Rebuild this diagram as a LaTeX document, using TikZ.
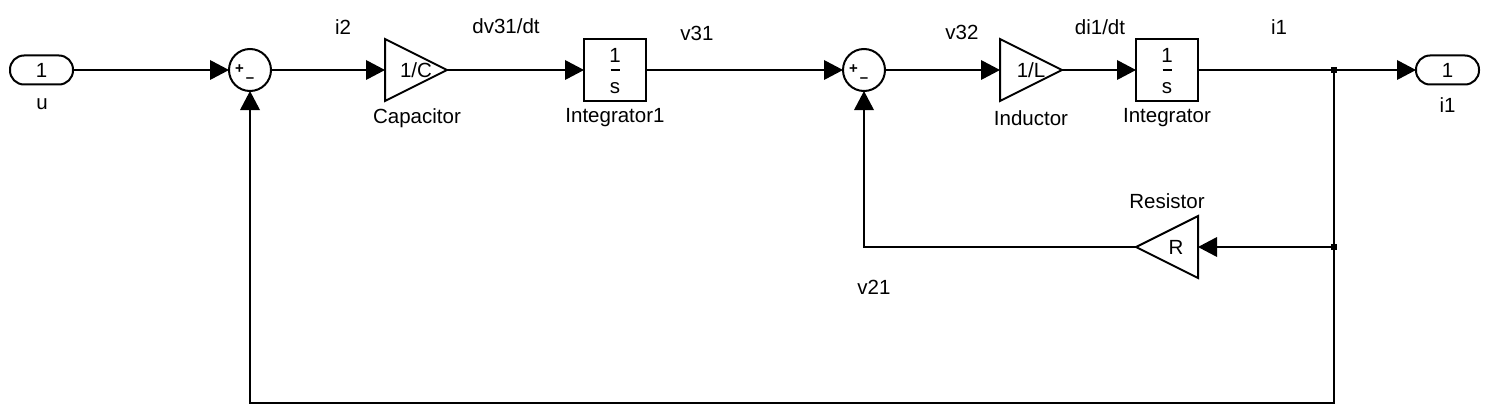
\documentclass[tikz,border=0pt]{standalone}
\usepackage{fontspec}
\setmainfont{Liberation Sans}
\usetikzlibrary{arrows.meta}
\tikzset{
  x=1pt,y=-1pt,
  every node/.style={font=\fontsize{20.5}{24}\selectfont,inner sep=0pt,outer sep=0pt},
  wire/.style={draw=black,line width=2pt},
  arrowwire/.style={wire,-{Triangle[length=19pt,width=20pt,line width=0pt]}},
  portbox/.style={draw=black,line width=2pt,rounded corners=14pt,minimum width=63pt,minimum height=29pt},
  sumbox/.style={draw=black,line width=2pt,circle,minimum size=42pt,fill=white},
  intbox/.style={draw=black,line width=2pt,minimum width=62pt,minimum height=62pt,fill=white},
  gainbox/.style={minimum width=62pt,minimum height=62pt},
  tri/.style={draw=black,line width=2pt,line join=miter},
  dotbox/.style={fill=black,minimum size=6pt},
  plus/.style={font=\fontsize{15}{15}\bfseries\selectfont},
  bar/.style={draw=black,line width=2.5pt}
}
\begin{document}
\begin{tikzpicture}
\useasboundingbox (0,0) rectangle (1489,420);
% blocks
\node[portbox] (in) at (41.5,70) {1};
\node[sumbox] (s1) at (250,70) {};
\node[gainbox] (cap) at (416,70) {1/C\hspace{18pt}};
\node[intbox] (int1) at (615,70) {};
\node[sumbox] (s2) at (864,70) {};
\node[gainbox] (ind) at (1031,70) {1/L\hspace{18pt}};
\node[intbox] (int2) at (1167,70) {};
\node[portbox] (out) at (1447.5,70) {1};
\node[gainbox] (res) at (1167,247) {\hspace{18pt}R};
\draw[tri] (cap.north west) -- (cap.east) -- (cap.south west) -- cycle;
\draw[tri] (ind.north west) -- (ind.east) -- (ind.south west) -- cycle;
\draw[tri] (res.north east) -- (res.west) -- (res.south east) -- cycle;
% block contents
\node (n1) at (615,55) {1};
\node (d1) at (615,88) {s};
\draw[bar] (610.5,70) -- (619.5,70);
\node (n2) at (1167,55) {1};
\node (d2) at (1167,88) {s};
\draw[bar] (1162.5,70) -- (1171.5,70);
\node[plus] (p1) at (239.5,69.5) {+};
\node[plus] (m1) at (250,80) {–};
\node[plus] (p2) at (853.5,69.5) {+};
\node[plus] (m2) at (864,80) {–};
% junctions
\node[dotbox] (j1) at (1333.5,70) {};
\node[dotbox] (j2) at (1333.5,247) {};
% connectors
\draw[arrowwire] (in.east) -- (s1.west);
\draw[arrowwire] (s1.east) -- (cap.west);
\draw[arrowwire] (cap.east) -- (int1.west);
\draw[arrowwire] (int1.east) -- (s2.west);
\draw[arrowwire] (s2.east) -- (ind.west);
\draw[arrowwire] (ind.east) -- (int2.west);
\draw[wire] (int2.east) -- (j1.center);
\draw[arrowwire] (j1.center) -- (out.west);
\draw[wire] (j1.center) -- (j2.center);
\draw[arrowwire] (j2.center) -- (res.east);
\draw[arrowwire] (res.west) -| (s2.south);
\coordinate (corner) at (1333.5,403);
\draw[arrowwire] (j2.center) -- (corner) -| (s1.south);
% labels
\node (lu) at (42,104) {u};
\node (li1o) at (1447.5,105) {i1};
\node (lcap) at (417,118) {Capacitor};
\node (lint1) at (615,118) {Integrator1};
\node (lind) at (1031,118) {Inductor};
\node (lint2) at (1167,118) {Integrator};
\node (lres) at (1167,201) {Resistor};
\node (li2) at (343,27) {i2};
\node (ldv) at (506,26) {dv31/dt};
\node (lv31) at (697,33) {v31};
\node (lv32) at (962,32) {v32};
\node (ldi) at (1100,27) {di1/dt};
\node (li1) at (1279,27) {i1};
\node (lv21) at (874,287) {v21};
\end{tikzpicture}
\end{document}
